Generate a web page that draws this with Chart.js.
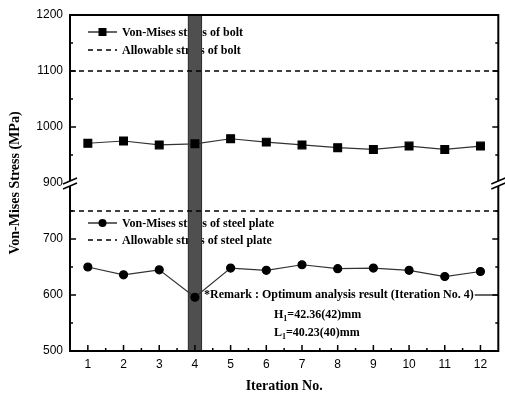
<!DOCTYPE html>
<html>
<head>
<meta charset="utf-8">
<script src="https://cdn.jsdelivr.net/npm/chart.js@4.4.1/dist/chart.umd.min.js"></script>
<style>
  html, body { margin: 0; padding: 0; background: #fff; }
  #wrap { width: 505px; height: 396px; }
</style>
</head>
<body>
<div id="wrap"><canvas id="stressChart"></canvas></div>
<script>
// --- Data ---
const iterations = [1, 2, 3, 4, 5, 6, 7, 8, 9, 10, 11, 12];
const boltStress = [971, 975, 968, 970, 979, 973, 968, 963, 960, 966, 960, 966];
const plateStress = [650, 636, 645, 596, 648, 644, 654, 647, 648, 644, 633, 642];
const boltAllowable = 1100;
const plateAllowable = 750;
const optimumIteration = 4;
const xRange = [0.5, 12.5];
const upperRange = [900, 1200];
const lowerRange = [500, 800];
const remarkLines = ['*Remark : Optimum analysis result (Iteration No. 4)', '=42.36(42)mm', '=40.23(40)mm'];

const serif = '"Liberation Serif", "Times New Roman", serif';
const sans = '"Liberation Sans", Arial, sans-serif';

// --- Helpers ---
function toPoints(values) {
    return iterations.map((x, i) => ({ x: x, y: values[i] }));
}

function hline(ctx, x1, x2, y, dash) {
    ctx.save();
    ctx.strokeStyle = '#000';
    ctx.lineWidth = dash ? 1.5 : 1.2;
    ctx.setLineDash(dash ? [5, 4] : []);
    ctx.beginPath();
    ctx.moveTo(x1, y);
    ctx.lineTo(x2, y);
    ctx.stroke();
    ctx.restore();
}

// --- Legend + remark drawn inside the plot ---
const legendPlugin = {
    id: 'legendText',
    beforeDatasetsDraw(chart) {
        const ctx = chart.ctx;
        ctx.save();
        ctx.font = 'bold 12px ' + serif;
        ctx.fillStyle = '#000';
        ctx.textBaseline = 'middle';

        const items = [
            { y: 32, text: 'Von-Mises stress of bolt', marker: 'rect' },
            { y: 50, text: 'Allowable stress of bolt', dash: true },
            { y: 223, text: 'Von-Mises stress of steel plate', marker: 'circle' },
            { y: 240, text: 'Allowable stress of steel plate', dash: true }
        ];
        items.forEach(it => {
            hline(ctx, 88, 117, it.y, it.dash);
            if (it.marker === 'rect') {
                ctx.fillRect(98.5, it.y - 4, 8, 8);
            } else if (it.marker === 'circle') {
                ctx.beginPath();
                ctx.arc(102.5, it.y, 4, 0, Math.PI * 2);
                ctx.fill();
            }
            ctx.fillText(it.text, 122, it.y + 1);
        });
        ctx.restore();
    },
    afterDatasetsDraw(chart) {
        const ctx = chart.ctx;
        const { chartArea } = chart;
        ctx.save();
        ctx.fillStyle = '#000';
        ctx.textBaseline = 'middle';
        ctx.font = 'bold 12px ' + serif;
        ctx.fillText(remarkLines[0], 204, 295);
        const w = ctx.measureText(remarkLines[0]).width;
        hline(ctx, 204 + w + 1, chartArea.right, 295, false);

        // H1 and L1 with subscripts
        [['H', remarkLines[1], 315], ['L', remarkLines[2], 333]].forEach(([sym, rest, y]) => {
            ctx.font = 'bold 12px ' + serif;
            ctx.fillText(sym, 274, y);
            const sw = ctx.measureText(sym).width;
            ctx.font = 'bold 8px ' + serif;
            ctx.fillText('1', 274 + sw, y + 4);
            ctx.font = 'bold 12px ' + serif;
            ctx.fillText(rest, 274 + sw + 4, y);
        });

        // Y title
        ctx.save();
        ctx.translate(15, (chartArea.top + chartArea.bottom) / 2);
        ctx.rotate(-Math.PI / 2);
        ctx.textAlign = 'center';
        ctx.font = 'bold 14px ' + serif;
        ctx.fillText('Von-Mises Stress (MPa)', 0, 0);
        ctx.restore();
        ctx.restore();
    }
};

// --- Frame, inward ticks and axis breaks ---
const framePlugin = {
    id: 'frame',
    afterDraw(chart) {
        const ctx = chart.ctx;
        const { left, right, top, bottom } = chart.chartArea;
        const xs = chart.scales.x;
        const up = chart.scales.yUpper;
        const lo = chart.scales.yLower;
        ctx.save();
        ctx.strokeStyle = '#000';
        ctx.lineWidth = 2;
        ctx.strokeRect(left, top, right - left, bottom - top);

        ctx.lineWidth = 1.5;
        ctx.beginPath();
        iterations.forEach(v => {
            const px = xs.getPixelForValue(v);
            ctx.moveTo(px, bottom);
            ctx.lineTo(px, bottom - 6);
            if (v < iterations[iterations.length - 1]) {
                const mx = xs.getPixelForValue(v + 0.5);
                ctx.moveTo(mx, bottom);
                ctx.lineTo(mx, bottom - 3);
            }
        });
        [[up, upperRange], [lo, lowerRange]].forEach(([s, r]) => {
            for (let v = r[0] + 50; v < r[1]; v += 50) {
                const py = s.getPixelForValue(v);
                const len = v % 100 === 0 ? 6 : 3;
                ctx.moveTo(left, py);
                ctx.lineTo(left + len, py);
                ctx.moveTo(right, py);
                ctx.lineTo(right - len, py);
            }
        });
        ctx.stroke();

        // break marks
        const yb = up.bottom;
        [left, right].forEach(x => {
            ctx.fillStyle = '#fff';
            ctx.beginPath();
            ctx.moveTo(x - 7, yb + 1);
            ctx.lineTo(x + 7, yb - 5);
            ctx.lineTo(x + 7, yb);
            ctx.lineTo(x - 7, yb + 6);
            ctx.closePath();
            ctx.fill();
            ctx.lineWidth = 1.5;
            ctx.beginPath();
            ctx.moveTo(x - 7, yb + 1);
            ctx.lineTo(x + 7, yb - 5);
            ctx.moveTo(x - 7, yb + 6);
            ctx.lineTo(x + 7, yb);
            ctx.stroke();
        });
        ctx.restore();
    }
};

// --- Chart ---
const ctx = document.getElementById('stressChart').getContext('2d');
const yCommon = {
    type: 'linear',
    position: 'left',
    stack: 'stress',
    stackWeight: 1,
    grid: { display: false, drawTicks: false },
    border: { display: false },
    afterFit: s => { s.width = 70; }
};
const yTicks = { stepSize: 100, color: '#000', font: { family: sans, size: 12 }, padding: 7 };

const stressChart = new Chart(ctx, {
    type: 'line',
    data: {
        datasets: [
            {
                label: 'Von-Mises stress of bolt',
                data: toPoints(boltStress),
                yAxisID: 'yUpper',
                borderColor: '#333',
                borderWidth: 1.2,
                pointStyle: 'rect',
                pointRadius: 5.5,
                pointBackgroundColor: '#000',
                pointBorderColor: '#000',
                order: 1
            },
            {
                label: 'Allowable stress of bolt',
                data: xRange.map(x => ({ x: x, y: boltAllowable })),
                yAxisID: 'yUpper',
                borderColor: '#000',
                borderWidth: 1.5,
                borderDash: [5, 4],
                pointRadius: 0,
                order: 1
            },
            {
                label: 'Von-Mises stress of steel plate',
                data: toPoints(plateStress),
                yAxisID: 'yLower',
                borderColor: '#333',
                borderWidth: 1.2,
                pointStyle: 'circle',
                pointRadius: 4,
                pointBackgroundColor: '#000',
                pointBorderColor: '#000',
                order: 1
            },
            {
                label: 'Allowable stress of steel plate',
                data: xRange.map(x => ({ x: x, y: plateAllowable })),
                yAxisID: 'yLower',
                borderColor: '#000',
                borderWidth: 1.5,
                borderDash: [5, 4],
                pointRadius: 0,
                order: 1
            },
            {
                type: 'bar',
                label: 'Optimum (upper)',
                data: [{ x: optimumIteration, y: upperRange }],
                yAxisID: 'yUpper',
                backgroundColor: '#4f4f4f',
                borderColor: '#262626',
                borderWidth: { left: 1, right: 1, top: 0, bottom: 0 },
                borderSkipped: false,
                barThickness: 14,
                grouped: false,
                order: 10
            },
            {
                type: 'bar',
                label: 'Optimum (lower)',
                data: [{ x: optimumIteration, y: lowerRange }],
                yAxisID: 'yLower',
                backgroundColor: '#4f4f4f',
                borderColor: '#262626',
                borderWidth: { left: 1, right: 1, top: 0, bottom: 0 },
                borderSkipped: false,
                barThickness: 14,
                grouped: false,
                order: 10
            }
        ]
    },
    options: {
        responsive: true,
        maintainAspectRatio: false,
        animation: false,
        layout: { padding: { top: 15, right: 1, left: 0, bottom: 0 } },
        plugins: { legend: { display: false }, tooltip: { enabled: false } },
        scales: {
            x: {
                type: 'linear',
                min: xRange[0],
                max: xRange[1],
                offset: false,
                grid: { display: false, offset: false, drawTicks: false },
                border: { display: false },
                afterBuildTicks: a => { a.ticks = iterations.map(v => ({ value: v })); },
                ticks: { color: '#000', font: { family: sans, size: 12 }, padding: 6 },
                title: {
                    display: true,
                    text: 'Iteration No.',
                    color: '#000',
                    font: { family: serif, size: 14, weight: 'bold' },
                    padding: { top: 2, bottom: 1 }
                },
                afterFit: s => { s.height = 45; s.paddingLeft = 0; s.paddingRight = 0; }
            },
            yLower: Object.assign({}, yCommon, {
                min: lowerRange[0],
                max: lowerRange[1],
                ticks: Object.assign({}, yTicks, { callback: v => (v === lowerRange[1] ? '' : String(v)) })
            }),
            yUpper: Object.assign({}, yCommon, {
                min: upperRange[0],
                max: upperRange[1],
                ticks: Object.assign({}, yTicks, { callback: v => String(v) })
            })
        }
    },
    plugins: [legendPlugin, framePlugin]
});
</script>
</body>
</html>
